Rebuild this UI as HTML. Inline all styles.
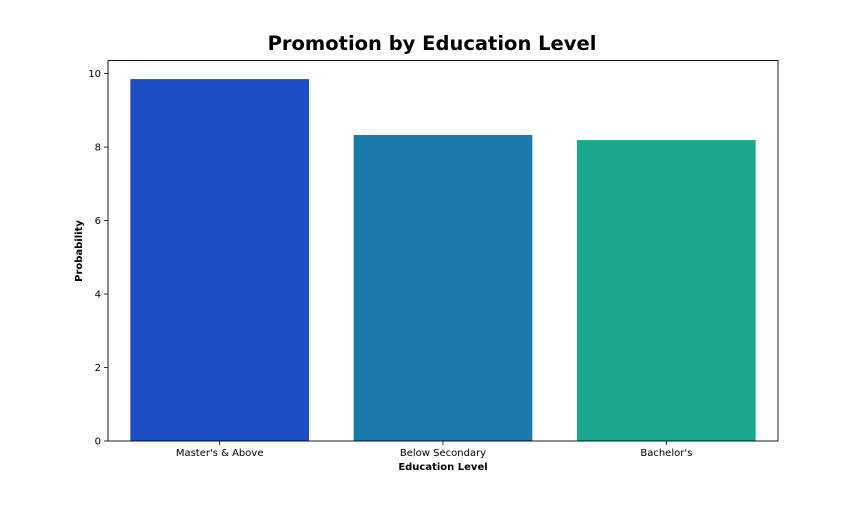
<!DOCTYPE html>
<html><head><meta charset="utf-8"><style>
body{margin:0;background:#fff;font-family:"DejaVu Sans",sans-serif;}
svg text{font-family:"DejaVu Sans","Liberation Sans",sans-serif;}
</style></head><body>
<svg id="chart" width="864" height="504">
<text x="432" y="50" text-anchor="middle" font-size="19.5" font-weight="bold" fill="#000">Promotion by Education Level</text>
<g id="plot"></g>
<rect x="108" y="60.5" width="670" height="380.5" fill="none" stroke="#000" stroke-width="0.9"/>
<text x="443" y="470" text-anchor="middle" font-size="10" font-weight="bold">Education Level</text>
<text transform="translate(82,251) rotate(-90)" text-anchor="middle" font-size="10" font-weight="bold">Probability</text>
</svg>
<script>
const categories = ["Master's & Above", "Below Secondary", "Bachelor's"];
const values = [9.85, 8.33, 8.19];
const barColors = ["#1c4ec4", "#1a7aab", "#1aa88f"];
const yTicks = [0, 2, 4, 6, 8, 10];
const yMax = 10.37;

const X0 = 108, X1 = 778, Y0 = 441, Y1 = 60;
const band = (X1 - X0) / categories.length;
const xPos = i => X0 + band * i + band * 0.1;
const yPos = v => Y0 - (v / yMax) * (Y0 - Y1);
const NS = "http://www.w3.org/2000/svg";
const g = document.getElementById('plot');
function mk(tag, attrs, text) {
  const e = document.createElementNS(NS, tag);
  for (const k in attrs) e.setAttribute(k, attrs[k]);
  if (text !== undefined) e.textContent = text;
  g.appendChild(e);
  return e;
}
values.forEach((v, i) => {
  const r = mk('rect', {x: xPos(i), y: yPos(v), width: band * 0.8, height: Y0 - yPos(v), fill: barColors[i]});
  
  
  const cx = X0 + band * (i + 0.5);
  const t = mk('line', {x1: cx, x2: cx, y1: Y0, y2: Y0 + 4, stroke: '#000', 'stroke-width': 0.8});
  
  
  const l = mk('text', {x: cx, y: Y0 + 15, 'text-anchor': 'middle', 'font-size': 10}, categories[i]);
  
  
});
yTicks.forEach(v => {
  const y = yPos(v);
  const t = mk('line', {x1: X0 - 4, x2: X0, y1: y, y2: y, stroke: '#000', 'stroke-width': 0.8});
  
  
  const l = mk('text', {x: X0 - 7, y: y + 3.5, 'text-anchor': 'end', 'font-size': 10}, String(v));
  
  
});
</script>
</body></html>
